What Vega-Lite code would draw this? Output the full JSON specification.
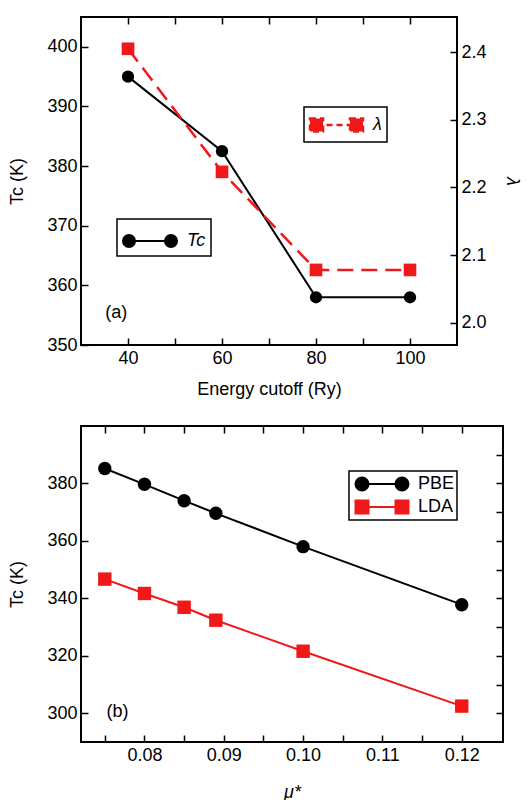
{
  "$schema": "https://vega.github.io/schema/vega-lite/v6.json",
  "padding": {"left": 7, "top": 15, "right": 0, "bottom": 0},
  "spacing": 25,
  "datasets": {
    "cutoff": [
      {"cut": 40, "Tc": 395, "lam": 2.405},
      {"cut": 60, "Tc": 382.5, "lam": 2.223},
      {"cut": 80, "Tc": 358, "lam": 2.078},
      {"cut": 100, "Tc": 358, "lam": 2.078}
    ],
    "mu": [
      {"mu": 0.075, "T": 385.2, "series": "PBE"},
      {"mu": 0.08, "T": 379.7, "series": "PBE"},
      {"mu": 0.085, "T": 374.0, "series": "PBE"},
      {"mu": 0.089, "T": 369.6, "series": "PBE"},
      {"mu": 0.1, "T": 358.0, "series": "PBE"},
      {"mu": 0.12, "T": 337.8, "series": "PBE"},
      {"mu": 0.075, "T": 346.7, "series": "LDA"},
      {"mu": 0.08, "T": 341.7, "series": "LDA"},
      {"mu": 0.085, "T": 336.9, "series": "LDA"},
      {"mu": 0.089, "T": 332.4, "series": "LDA"},
      {"mu": 0.1, "T": 321.6, "series": "LDA"},
      {"mu": 0.12, "T": 302.5, "series": "LDA"}
    ],
    "tagA": [{"x": 37.5, "y": 355.3, "t": "(a)"}],
    "tagB": [{"x": 0.0766, "y": 300.5, "t": "(b)"}]
  },
  "vconcat": [
    {
      "width": 376,
      "height": 328,
      "data": {"name": "cutoff"},
      "layer": [
        {
          "layer": [
            {
              "mark": {"type": "line", "color": "black", "strokeWidth": 2},
              "encoding": {
                "x": {"field": "cut", "type": "quantitative", "scale": {"domain": [30, 110]},
                  "axis": {"title": "Energy cutoff (Ry)", "titlePadding": 13, "values": [40, 50, 60, 70, 80, 90, 100],
                    "labelExpr": "datum.value % 20 === 0 ? datum.label : ''"}},
                "y": {"field": "Tc", "type": "quantitative", "scale": {"domain": [350, 405], "nice": false},
                  "axis": {"title": "Tc (K)", "values": [350, 355, 360, 365, 370, 375, 380, 385, 390, 395, 400],
                    "labelExpr": "datum.value % 10 === 0 ? datum.label : ''"}}
              }
            },
            {
              "mark": {"type": "point", "filled": true, "size": 150, "opacity": 1},
              "encoding": {
                "x": {"field": "cut", "type": "quantitative"},
                "y": {"field": "Tc", "type": "quantitative"},
                "color": {"datum": "Tc", "scale": {"range": ["black"]},
                  "legend": {"title": null, "orient": "none", "legendX": 36, "legendY": 202,
                    "symbolType": "M-1,0a0.375,0.375 0 1,0 0.75,0a0.375,0.375 0 1,0 -0.75,0Z M1.625,0a0.375,0.375 0 1,0 0.75,0a0.375,0.375 0 1,0 -0.75,0Z M-0.625,0L2,0",
                    "symbolSize": 1024, "padding": 5, "labelOffset": 31, "labelFontStyle": "italic",
                    "strokeColor": "black", "symbolStrokeColor": "black", "symbolStrokeWidth": 2, "symbolFillColor": "black", "symbolOpacity": 1,
                    "encode": {"symbols": {"update": {"stroke": {"value": "black"}, "strokeWidth": {"value": 2}, "fill": {"value": "black"}, "opacity": {"value": 1}}}}}}
              }
            },
            {
              "data": {"name": "tagA"},
              "mark": {"type": "text", "fontSize": 18, "color": "black"},
              "encoding": {
                "x": {"field": "x", "type": "quantitative"},
                "y": {"field": "y", "type": "quantitative"},
                "text": {"field": "t"}
              }
            }
          ]
        },
        {
          "layer": [
            {
              "mark": {"type": "line", "color": "#f01818", "strokeWidth": 2.5, "strokeDash": [16, 8]},
              "encoding": {
                "x": {"field": "cut", "type": "quantitative", "axis": null},
                "y": {"field": "lam", "type": "quantitative", "scale": {"domain": [1.967, 2.452], "nice": false},
                  "axis": {"orient": "right", "title": "λ", "titleFontStyle": "italic", "titlePadding": 16,
                    "values": [2.0, 2.05, 2.1, 2.15, 2.2, 2.25, 2.3, 2.35, 2.4, 2.45],
                    "labelExpr": "abs(datum.value * 10 - round(datum.value * 10)) < 0.01 ? format(datum.value, '.1f') : ''"}}
              }
            },
            {
              "mark": {"type": "point", "filled": true, "shape": "square", "size": 160, "opacity": 1},
              "encoding": {
                "x": {"field": "cut", "type": "quantitative"},
                "y": {"field": "lam", "type": "quantitative"},
                "color": {"datum": "λ", "scale": {"range": ["#f01818"]},
                  "legend": {"title": null, "orient": "none", "legendX": 223, "legendY": 90,
                    "symbolType": "M-1.043,-0.565h1.13v1.13h-1.13Z M2.435,-0.565h1.13v1.13h-1.13Z M-0.478,0L3,0",
                    "symbolSize": 529, "padding": 5, "labelOffset": 38, "labelFontStyle": "italic",
                    "strokeColor": "black", "symbolStrokeColor": "#f01818", "symbolStrokeWidth": 2.5, "symbolFillColor": "#f01818", "symbolDash": [6, 4], "symbolOpacity": 1,
                    "encode": {"symbols": {"update": {"stroke": {"value": "#f01818"}, "strokeWidth": {"value": 2.5}, "fill": {"value": "#f01818"}, "opacity": {"value": 1}, "strokeDash": {"value": [6, 4]}}}}}}
              }
            }
          ]
        },
        {
          "mark": {"type": "point", "opacity": 0},
          "encoding": {
            "x": {"field": "cut", "type": "quantitative",
              "axis": {"orient": "top", "title": null, "labels": false, "values": [40, 50, 60, 70, 80, 90, 100]}},
            "y": {"field": "Tc", "type": "quantitative", "scale": {"domain": [350, 405], "nice": false}, "axis": null}
          }
        }
      ],
      "resolve": {"scale": {"y": "independent", "color": "independent"}, "axis": {"x": "independent"}}
    },
    {
      "width": 422,
      "height": 316,
      "data": {"name": "mu"},
      "layer": [
        {
          "layer": [
            {
              "transform": [{"filter": "datum.series === 'PBE'"}],
              "mark": {"type": "line", "strokeWidth": 2, "color": "black"},
              "encoding": {
                "x": {"field": "mu", "type": "quantitative", "scale": {"domain": [0.072, 0.1252], "nice": false, "zero": false},
                  "axis": {"title": "μ*", "titleFontStyle": "italic", "titlePadding": 19, "format": ".2f",
                    "values": [0.075, 0.08, 0.085, 0.09, 0.095, 0.1, 0.105, 0.11, 0.115, 0.12],
                    "labelExpr": "abs(datum.value * 100 - round(datum.value * 100)) < 0.01 ? datum.label : ''"}},
                "y": {"field": "T", "type": "quantitative", "scale": {"domain": [290, 400], "nice": false, "zero": false},
                  "axis": {"title": "Tc (K)", "values": [300, 310, 320, 330, 340, 350, 360, 370, 380, 390],
                    "labelExpr": "datum.value % 20 === 0 ? datum.label : ''"}}
              }
            },
            {
              "transform": [{"filter": "datum.series === 'LDA'"}],
              "mark": {"type": "line", "strokeWidth": 2, "color": "#f01818"},
              "encoding": {
                "x": {"field": "mu", "type": "quantitative"},
                "y": {"field": "T", "type": "quantitative"}
              }
            },
            {
              "transform": [{"filter": "datum.series === 'PBE'"}],
              "mark": {"type": "point", "filled": true, "size": 180, "opacity": 1, "shape": "circle", "color": "black"},
              "encoding": {
                "x": {"field": "mu", "type": "quantitative"},
                "y": {"field": "T", "type": "quantitative"}
              }
            },
            {
              "transform": [{"filter": "datum.series === 'LDA'"}],
              "mark": {"type": "point", "filled": true, "size": 180, "opacity": 1, "shape": "square", "color": "#f01818"},
              "encoding": {
                "x": {"field": "mu", "type": "quantitative"},
                "y": {"field": "T", "type": "quantitative"}
              }
            },
            {
              "mark": {"type": "point", "filled": true, "opacity": 0},
              "encoding": {
                "x": {"field": "mu", "type": "quantitative"},
                "y": {"field": "T", "type": "quantitative"},
                "color": {"field": "series", "type": "nominal", "scale": {"domain": ["PBE", "LDA"], "range": ["black", "#f01818"]},
                  "legend": {"title": null, "orient": "none", "legendX": 268, "legendY": 45,
                    "symbolSize": 400, "padding": 2, "rowPadding": 1, "labelOffset": 45,
                    "strokeColor": "black", "symbolStrokeWidth": 2, "symbolOpacity": 1,
                    "encode": {"symbols": {"update": {
                      "stroke": {"signal": "datum.value === 'PBE' ? 'black' : '#f01818'"},
                      "strokeWidth": {"value": 2}, "opacity": {"value": 1}}}}}},
                "shape": {"field": "series", "type": "nominal",
                  "scale": {"domain": ["PBE", "LDA"], "range": [
                    "M-0.65,0a0.65,0.65 0 1,0 1.3,0a0.65,0.65 0 1,0 -1.3,0Z M3.35,0a0.65,0.65 0 1,0 1.3,0a0.65,0.65 0 1,0 -1.3,0Z M0,0L4,0",
                    "M-0.65,-0.65h1.3v1.3h-1.3Z M3.35,-0.65h1.3v1.3h-1.3Z M0,0L4,0"]}}
              }
            },
            {
              "data": {"name": "tagB"},
              "mark": {"type": "text", "fontSize": 18, "color": "black"},
              "encoding": {
                "x": {"field": "x", "type": "quantitative"},
                "y": {"field": "y", "type": "quantitative"},
                "text": {"field": "t"}
              }
            }
          ]
        },
        {
          "mark": {"type": "point", "opacity": 0},
          "encoding": {
            "x": {"field": "mu", "type": "quantitative",
              "axis": {"orient": "top", "title": null, "labels": false, "values": [0.075, 0.08, 0.085, 0.09, 0.095, 0.1, 0.105, 0.11, 0.115, 0.12]}},
            "y": {"field": "T", "type": "quantitative",
              "axis": {"orient": "right", "title": null, "labels": false, "values": [300, 310, 320, 330, 340, 350, 360, 370, 380, 390]}}
          }
        }
      ],
      "resolve": {"axis": {"x": "independent", "y": "independent"}}
    }
  ],
  "resolve": {"scale": {"color": "independent", "shape": "independent"}},
  "config": {
    "font": "Liberation Sans",
    "view": {"stroke": "black", "strokeWidth": 2},
    "axis": {"domain": false, "grid": false, "tickSize": -7, "tickColor": "black", "tickWidth": 1.5,
      "labelFontSize": 18, "labelColor": "black", "labelPadding": 11,
      "titleFontSize": 18, "titleColor": "black", "titleFontWeight": "normal"},
    "axisX": {"titlePadding": 8},
    "axisY": {"titlePadding": 20},
    "legend": {"labelFontSize": 18, "labelColor": "black", "strokeWidth": 1.5}
  }
}
